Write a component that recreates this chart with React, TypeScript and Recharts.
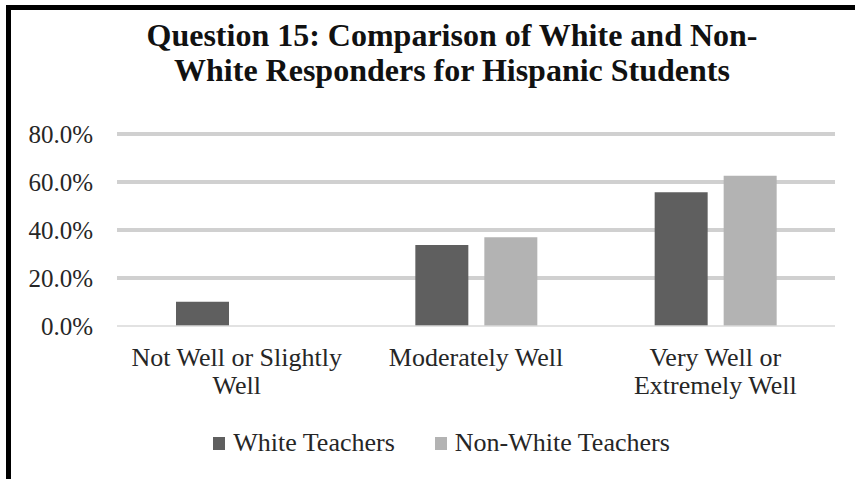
import { BarChart, Bar, XAxis, YAxis, CartesianGrid, Legend } from 'recharts'

const categories = ['Not Well or Slightly Well', 'Moderately Well', 'Very Well or Extremely Well']
const categoryLines = [['Not Well or Slightly', 'Well'], ['Moderately Well'], ['Very Well or', 'Extremely Well']]
const whiteTeachers = [10.1, 33.8, 55.7]
const nonWhiteTeachers = [0, 37.0, 62.6]
const yTicks = [0, 20, 40, 60, 80]
const gridValues = [20, 40, 60, 80]
const titleLines = ['Question 15: Comparison of White and Non-', 'White Responders for Hispanic Students']

const SERIF = '"Liberation Serif", "Times New Roman", serif'
const TEXT = '#262626'
const DARK = '#5f5f5f'
const LIGHT = '#b3b3b3'

const data = categories.map((name, i) => ({
  name,
  white: whiteTeachers[i],
  nonWhite: nonWhiteTeachers[i],
}))

// two-line category labels under each group
function CategoryTick({ x, y, payload }: any) {
  const idx = categories.indexOf(payload.value)
  const lines = categoryLines[idx] ?? [payload.value]
  return (
    <text x={x} y={y} textAnchor="middle" fill={TEXT} fontFamily={SERIF} fontSize={26}>
      {lines.map((l, i) => (
        <tspan key={i} x={x} dy={i === 0 ? 32 : 28}>{l}</tspan>
      ))}
    </text>
  )
}

function LegendRow() {
  const items = [
    { label: 'White Teachers', color: DARK },
    { label: 'Non-White Teachers', color: LIGHT },
  ]
  return (
    <div style={{ display: 'flex', justifyContent: 'center', alignItems: 'center', height: 30, paddingLeft: 28, gap: 40, fontFamily: SERIF, fontSize: 26, color: TEXT }}>
      {items.map((it) => (
        <div key={it.label} style={{ display: 'flex', alignItems: 'center', gap: 8 }}>
          <span style={{ width: 12, height: 13, background: it.color, display: 'inline-block' }} />
          <span style={{ lineHeight: '30px', whiteSpace: 'nowrap' }}>{it.label}</span>
        </div>
      ))}
    </div>
  )
}

export default function App() {
  return (
    <div style={{ position: 'absolute', left: 0, top: 0, width: 855, height: 479, overflow: 'hidden', background: '#fff' }}>
      <div style={{ position: 'absolute', left: 6, top: 5, width: 900, height: 500, borderLeft: '5px solid #000', borderTop: '5px solid #000' }} />
      <div style={{ position: 'absolute', left: 0, top: 18, width: 904, textAlign: 'center', fontFamily: SERIF, fontWeight: 'bold', fontSize: 32, lineHeight: '35px', color: '#111', whiteSpace: 'pre' }}>
        {titleLines.map((t) => <div key={t}>{t}</div>)}
      </div>
      <div style={{ position: 'absolute', left: 0, top: 0 }}>
        <BarChart width={855} height={479} data={data} margin={{ top: 134, right: 20, bottom: 21, left: 0 }} barSize={53} barGap={16}>
          <CartesianGrid vertical={false} horizontalValues={gridValues} stroke="#d0d0d0" strokeWidth={4} />
          <XAxis
            dataKey="name"
            height={102}
            tickLine={false}
            axisLine={{ stroke: '#d9d9d9', strokeWidth: 1.5 }}
            tick={<CategoryTick />}
            interval={0}
          />
          <YAxis
            domain={[0, 80]}
            ticks={yTicks}
            width={117}
            axisLine={false}
            tickLine={false}
            tickMargin={18}
            tickFormatter={(v: number) => `${v.toFixed(1)}%`}
            tick={{ fill: TEXT, fontFamily: SERIF, fontSize: 25 }}
          />
          <Legend verticalAlign="bottom" wrapperStyle={{ left: 0, width: 855 }} content={() => <LegendRow />} />
          <Bar dataKey="white" name="White Teachers" fill={DARK} isAnimationActive={false} />
          <Bar dataKey="nonWhite" name="Non-White Teachers" fill={LIGHT} isAnimationActive={false} />
        </BarChart>
      </div>
    </div>
  )
}
